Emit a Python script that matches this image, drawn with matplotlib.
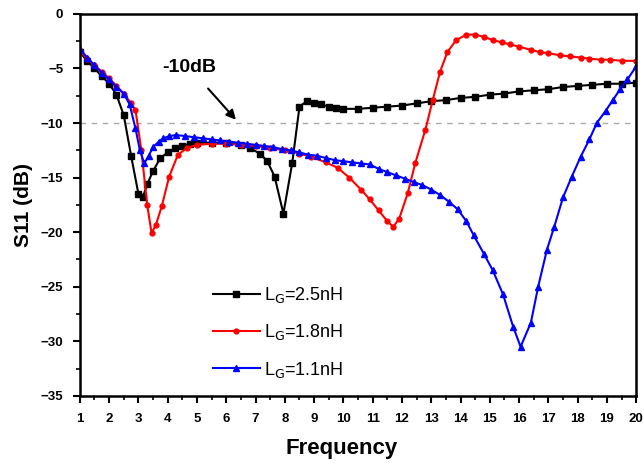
import matplotlib
matplotlib.use('Agg')
import matplotlib.pyplot as plt
from matplotlib.ticker import MultipleLocator

plt.rcParams['font.family'] = ['Liberation Sans', 'DejaVu Sans']

# L_G = 2.5 nH
f_25 = [1.0, 1.25, 1.5, 1.75, 2.0, 2.25, 2.5, 2.75, 3.0, 3.15, 3.3, 3.5, 3.75, 4.0, 4.25,
        4.5, 4.75, 5.0, 5.5, 6.0, 6.5, 6.8, 7.15, 7.4, 7.65, 7.95, 8.25, 8.5, 8.75, 9.0,
        9.25, 9.5, 9.75, 10.0, 10.5, 11.0, 11.5, 12.0, 12.5, 13.0, 13.5, 14.0, 14.5, 15.0,
        15.5, 16.0, 16.5, 17.0, 17.5, 18.0, 18.5, 19.0, 19.5, 20.0]
s_25 = [-3.5, -4.3, -5.0, -5.7, -6.4, -7.4, -9.3, -13.0, -16.5, -16.8, -15.6, -14.4, -13.2,
        -12.7, -12.3, -12.1, -11.9, -11.8, -11.8, -11.8, -12.0, -12.3, -12.8, -13.5, -14.9,
        -18.3, -13.7, -8.5, -8.0, -8.2, -8.3, -8.5, -8.6, -8.7, -8.7, -8.6, -8.5, -8.4,
        -8.2, -8.0, -7.9, -7.7, -7.6, -7.4, -7.3, -7.1, -7.0, -6.9, -6.7, -6.6, -6.5,
        -6.4, -6.4, -6.3]

# L_G = 1.8 nH
f_18 = [1.0, 1.25, 1.5, 1.75, 2.0, 2.25, 2.5, 2.75, 2.9, 3.1, 3.3, 3.45, 3.6, 3.8, 4.05,
        4.35, 4.65, 5.0, 5.5, 6.0, 6.5, 7.0, 7.5, 8.0, 8.5, 8.9, 9.4, 9.8, 10.2, 10.6,
        10.9, 11.2, 11.5, 11.7, 11.9, 12.2, 12.45, 12.8, 13.05, 13.3, 13.55, 13.85, 14.2,
        14.5, 14.8, 15.1, 15.4, 15.7, 16.0, 16.4, 16.7, 17.0, 17.4, 17.75, 18.1, 18.4,
        18.8, 19.1, 19.5, 20.0]
s_18 = [-3.4, -4.1, -4.7, -5.3, -5.9, -6.6, -7.3, -8.2, -8.8, -12.5, -17.5, -20.1, -19.3,
        -17.6, -14.9, -12.9, -12.3, -12.0, -11.9, -11.9, -12.0, -12.1, -12.3, -12.5, -12.8,
        -13.1, -13.6, -14.1, -15.0, -16.1, -17.0, -18.0, -19.0, -19.5, -18.8, -16.4, -13.7,
        -10.6, -7.9, -5.3, -3.5, -2.4, -1.9, -1.9, -2.1, -2.4, -2.6, -2.8, -3.0, -3.3,
        -3.5, -3.6, -3.8, -3.9, -4.0, -4.1, -4.2, -4.2, -4.3, -4.3]

# L_G = 1.1 nH
f_11 = [1.0, 1.25, 1.5, 1.75, 2.0, 2.25, 2.5, 2.7, 2.9, 3.05, 3.2, 3.35, 3.5, 3.7, 3.85,
        4.05, 4.3, 4.6, 4.9, 5.2, 5.5, 5.8, 6.1, 6.4, 6.7, 7.0, 7.3, 7.6, 7.9, 8.2, 8.5,
        8.8, 9.1, 9.4, 9.7, 10.0, 10.3, 10.6, 10.9, 11.2, 11.5, 11.8, 12.1, 12.4, 12.7,
        13.0, 13.3, 13.6, 13.9, 14.2, 14.45, 14.8, 15.1, 15.45, 15.8, 16.05, 16.4, 16.65,
        16.95, 17.2, 17.5, 17.8, 18.1, 18.4, 18.65, 18.95, 19.2, 19.45, 19.7, 20.0]
s_11 = [-3.2, -4.0, -4.7, -5.4, -6.0, -6.7, -7.3, -8.3, -10.5, -12.5, -13.7, -13.0, -12.2,
        -11.7, -11.4, -11.2, -11.1, -11.2, -11.3, -11.4, -11.5, -11.6, -11.7, -11.8, -11.9,
        -12.0, -12.1, -12.2, -12.4, -12.5, -12.7, -12.9, -13.0, -13.2, -13.4, -13.5, -13.6,
        -13.7, -13.8, -14.2, -14.5, -14.8, -15.1, -15.4, -15.7, -16.1, -16.6, -17.2, -17.9,
        -19.0, -20.3, -22.0, -23.5, -25.7, -28.7, -30.5, -28.3, -25.0, -21.6, -19.5, -16.8,
        -14.9, -13.1, -11.5, -10.0, -8.9, -7.9, -6.9, -6.0, -4.8]

fig = plt.figure(figsize=(6.44, 4.63), dpi=100)
ax = fig.add_axes([0.124, 0.145, 0.864, 0.825])

ax.axhline(-10, color='#aaaaaa', lw=1, ls=(0, (4, 4)), zorder=1)

ax.plot(f_25, s_25, color='black', marker='s', ms=4.5, lw=1.5, label='L$_\\mathrm{G}$=2.5nH')
ax.plot(f_18, s_18, color='#ff0000', marker='o', ms=3.5, lw=1.5, label='L$_\\mathrm{G}$=1.8nH')
ax.plot(f_11, s_11, color='#0000ff', marker='^', ms=4.5, lw=1.5, label='L$_\\mathrm{G}$=1.1nH')

ax.annotate('-10dB', xy=(6.33, -9.7), xytext=(4.75, -4.95), ha='center', va='center',
            fontsize=14, fontweight='bold',
            arrowprops=dict(arrowstyle='-|>', color='black', lw=1.5, shrinkA=9, shrinkB=0))

ax.set_xlim(1, 20)
ax.set_ylim(-35, 0)
ax.xaxis.set_major_locator(MultipleLocator(1))
ax.xaxis.set_minor_locator(MultipleLocator(0.5))
ax.yaxis.set_major_locator(MultipleLocator(5))
ax.yaxis.set_minor_locator(MultipleLocator(2.5))
ax.tick_params(which='major', direction='out', length=5, width=1.5, labelsize=9.5, pad=7)
ax.tick_params(which='minor', direction='out', length=3, width=1.2)
for lab in ax.get_xticklabels() + ax.get_yticklabels():
    lab.set_fontweight('bold')
for sp in ax.spines.values():
    sp.set_linewidth(1.8)

ax.set_xlabel('Frequency', fontsize=16, fontweight='bold')
ax.set_ylabel('S11 (dB)', fontsize=15, fontweight='bold')
ax.xaxis.set_label_coords(0.47, -0.11)
ax.yaxis.set_label_coords(-0.085, 0.5)

ax.legend(loc='lower left', bbox_to_anchor=(0.21, 0.0), frameon=False, fontsize=13,
          handlelength=2.6, labelspacing=0.95, handletextpad=0.2)

fig.savefig('out.png', dpi=100)
